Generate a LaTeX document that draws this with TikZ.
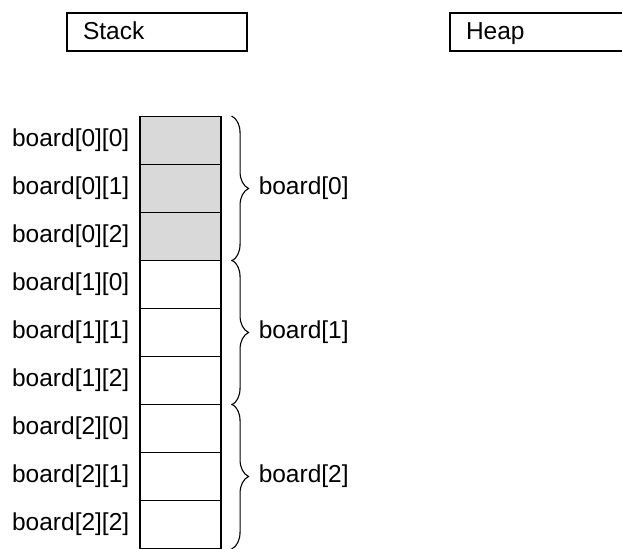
\documentclass[tikz,border=0pt]{standalone}
\usepackage{fontspec}
\setmainfont{Liberation Sans}
\usetikzlibrary{positioning, calc, decorations.pathreplacing}
\definecolor{cellgray}{RGB}{217,217,217}

\begin{document}
\begin{tikzpicture}[x=1pt, y=-1pt,
  every node/.style={font=\fontsize{24.5}{28}\selectfont},
  region/.style={draw, line width=1.1pt, minimum width=180pt, minimum height=38pt,
                 text width=148pt, align=left, inner xsep=16pt, inner ysep=0pt,
                 text height=18pt, text depth=4pt},
  cell/.style={draw, line width=1.1pt, minimum width=81pt, minimum height=48pt,
               inner sep=0pt, fill=white},
  rowcell/.style={cell, fill=cellgray},
  idx/.style={inner sep=0pt, anchor=east},
  grp/.style={decorate, decoration={brace, amplitude=17pt}, line width=1.1pt},
]
\useasboundingbox (0,0) rectangle (622,549);
\clip (0,0) rectangle (622,549);

% memory regions
\node[region] (stack) at (157,32) {Stack};
\node[region] (heap)  at (540,32) {Heap};

% the 3x3 board as nine stacked cells
\foreach \r in {0,1,2} {
  \foreach \c in {0,1,2} {
    \pgfmathtruncatemacro{\k}{3*\r+\c}
    \ifnum\r=0
      \node[rowcell] (c\r\c) at (180.5,{140.5+48*\k}) {};
    \else
      \node[cell] (c\r\c) at (180.5,{140.5+48*\k}) {};
    \fi
    \node[idx, left=10pt of c\r\c.west] (l\r\c) {board[\r][\c]};
  }
}

% one brace for each row
\foreach \r in {0,1,2} {
  \draw[grp] ($(c\r0.north east)+(10,0)$) -- ($(c\r2.south east)+(10,0)$)
    coordinate[midway] (m\r);
  \node[inner sep=0pt, anchor=west] (b\r) at ($(m\r)+(27,0)$) {board[\r]};
}

\end{tikzpicture}
\end{document}
